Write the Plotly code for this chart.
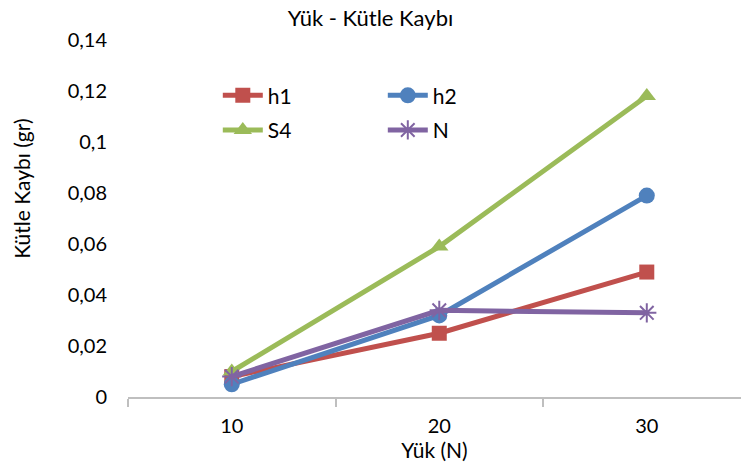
import plotly.graph_objects as go

loads = ["10", "20", "30"]
h1 = [0.008, 0.025, 0.049]
h2 = [0.005, 0.032, 0.079]
s4 = [0.010, 0.059, 0.118]
n_series = [0.008, 0.034, 0.033]
y_ticks = [0, 0.02, 0.04, 0.06, 0.08, 0.10, 0.12, 0.14]
y_tick_text = ["0", "0,02", "0,04", "0,06", "0,08", "0,1", "0,12", "0,14"]

FONT = "Lato, Open Sans, sans-serif"

series = [
    ("h1", h1, "#C0504D", dict(symbol="square", size=15), "legend"),
    ("h2", h2, "#4F81BD", dict(symbol="circle", size=16), "legend"),
    ("S4", s4, "#9BBB59", dict(symbol="triangle-up", size=16), "legend2"),
    ("N", n_series, "#8064A2", dict(symbol="asterisk-open", size=16,
                                    line=dict(width=2, color="#8064A2")), "legend2"),
]

fig = go.Figure()
for name, vals, color, marker, leg in series:
    m = dict(color=color, **marker)
    if "line" not in m:
        m["line"] = dict(width=0)
    fig.add_trace(go.Scatter(
        x=loads, y=vals, name=name, mode="lines+markers",
        line=dict(color=color, width=5), marker=m, legend=leg,
    ))

legend_common = dict(
    orientation="h", xanchor="left", yanchor="middle",
    font=dict(family=FONT, size=21, color="#000"),
    bgcolor="rgba(0,0,0,0)", entrywidth=110, entrywidthmode="pixels",
    itemwidth=40, tracegroupgap=0,
)

fig.update_layout(
    width=741, height=470,
    margin=dict(l=128, r=0, t=40, b=73),
    paper_bgcolor="white", plot_bgcolor="white",
    font=dict(family=FONT, size=20, color="#000"),
    title=dict(text="Yük - Kütle Kaybı", x=0.5, xanchor="center",
               y=1 - 18 / 470, yanchor="middle",
               font=dict(family=FONT, size=22, color="#000")),
    showlegend=True,
    legend=dict(x=0.1465, y=0.844, **legend_common),
    legend2=dict(x=0.1465, y=0.747, **legend_common),
    xaxis=dict(
        type="category", range=[-0.5, 2.454],
        showline=True, linecolor="#BFBFBF", linewidth=1.5,
        ticks="outside", ticklen=8, tickcolor="#BFBFBF", tickwidth=1.5,
        tickson="boundaries", showgrid=False, zeroline=False,
        tickfont=dict(family=FONT, size=20), ticklabelstandoff=10,
        title=dict(text="Yük (N)", font=dict(family=FONT, size=21), standoff=7),
    ),
    yaxis=dict(
        range=[0, 0.14], tickvals=y_ticks, ticktext=y_tick_text,
        showline=False, showgrid=False, zeroline=False, ticks="",
        tickfont=dict(family=FONT, size=20), ticklabelstandoff=20,
    ),
    annotations=[dict(
        text="Kütle Kaybı (gr)", textangle=-90,
        xref="paper", yref="paper", x=-0.173, y=0.583,
        xanchor="center", yanchor="middle", showarrow=False,
        font=dict(family=FONT, size=21, color="#000"),
    )],
)

fig.write_html("out.html")
